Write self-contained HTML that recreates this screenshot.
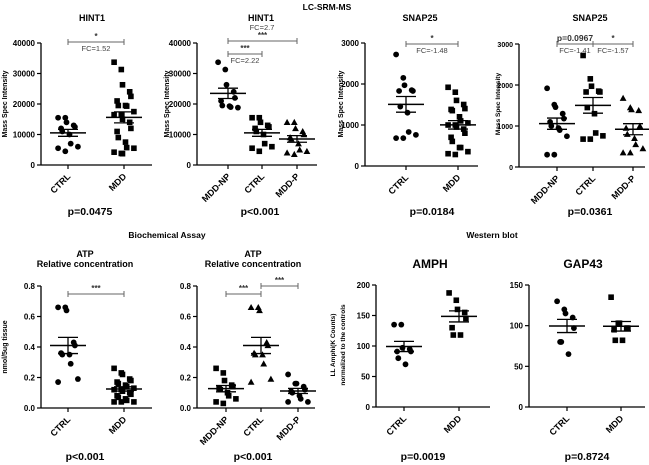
<!DOCTYPE html>
<html><head><meta charset="utf-8"><style>
body{margin:0;background:#fff}
svg{display:block;font-family:"Liberation Sans",Arial,sans-serif}
</style></head><body>
<svg id="fig" width="649" height="465" viewBox="0 0 649 465"></svg>
<script>
// ---- data ----
const hint1Cats=["CTRL","MDD"];
const hint1Ctrl=[15500,15500,14000,13000,12500,12000,11000,10000,7000,6000,5500,4500];
const hint1Mdd=[33700,31300,26300,24000,22500,21000,19500,19500,19300,17500,16500,16500,15000,14000,12000,11000,9000,7500,5700,5500,4200,3800,3700];
const hint1SubCats=["MDD-NP","CTRL","MDD-P"];
const hint1Np=[33700,31300,26300,24000,22000,21000,19500,19300,19000,18800];
const hint1P=[14000,14000,12000,11000,10000,9000,8500,7000,5000,4500,4000,3500];
const snapCtrl=[2720,2150,1970,1850,1830,1830,1450,1300,830,760,680,680];
const snapMdd=[1920,1800,1600,1500,1400,1380,1350,1200,1100,1050,1000,1000,950,900,800,700,600,450,450,350,300,280];
const snapNp=[1920,1520,1460,1300,1180,1100,1000,950,900,750,300,300];
const snapP=[1680,1450,1400,1380,1000,950,800,700,550,450,350,350];
const atpCtrl=[0.66,0.66,0.64,0.43,0.41,0.36,0.35,0.35,0.29,0.19,0.17];
const atpMdd=[0.26,0.23,0.22,0.19,0.18,0.17,0.16,0.15,0.14,0.13,0.12,0.12,0.11,0.10,0.09,0.08,0.07,0.06,0.05,0.04,0.04,0.04];
const atpNp=[0.26,0.23,0.18,0.15,0.14,0.13,0.12,0.10,0.08,0.06,0.04,0.03];
const atpP=[0.22,0.16,0.16,0.14,0.12,0.11,0.10,0.08,0.06,0.04,0.04];
const amphCtrl=[135,135,97,95,91,91,80,70];
const amphMdd=[187,175,160,155,145,130,118,118];
const gapCtrl=[130,120,115,110,97,80,80,65];
const gapMdd=[135,103,103,97,97,95,82,82];
const ticks40k=[0,10000,20000,30000,40000];
const ticks3k=[0,1000,2000,3000];
const ticksAtp=[0,0.2,0.4,0.6,0.8];
const ticksAmph=[0,50,100,150,200];
const ticksGap=[0,50,100,150];

const NS="http://www.w3.org/2000/svg";
const fig=document.getElementById('fig');
function el(tag,attrs,parent,txt){const e=document.createElementNS(NS,tag);for(const k in attrs)e.setAttribute(k,attrs[k]);if(txt!==undefined)e.textContent=txt;(parent||fig).appendChild(e);return e;}
function mean(a){return a.reduce((s,v)=>s+v,0)/a.length;}
function sem(a){const m=mean(a);return Math.sqrt(a.reduce((s,v)=>s+(v-m)*(v-m),0)/(a.length-1))/Math.sqrt(a.length);}
const fmt=v=>v%1?v.toFixed(1):String(v);

function panel(c){
  const g=el('g',{});
  
  
  const yS=v=>c.y0-(v/c.ymax)*(c.y0-c.ytop);
  const ya=el('line',{x1:c.ax,y1:c.ytop,x2:c.ax,y2:c.y0,stroke:'#000','stroke-width':1.3},g);
  
  const xa=el('line',{x1:c.ax,y1:c.y0,x2:c.xend,y2:c.y0,stroke:'#000','stroke-width':1.3},g);
  
  c.ticks.forEach(t=>{
    const y=yS(t);
    el('line',{x1:c.ax-4,y1:y,x2:c.ax,y2:y,stroke:'#000','stroke-width':1.2},g);
    const tl=el('text',{x:c.ax-6,y:y+3,'font-size':c.tkfs||8,'font-weight':'bold','text-anchor':'end'},g,c.tickFmt?c.tickFmt(t):fmt(t));
    
  });
  c.cats.forEach((cat,i)=>{
    const x=c.cx[i];
    el('line',{x1:x,y1:c.y0,x2:x,y2:c.y0+4,stroke:'#000','stroke-width':1.2},g);
    const cl=el('text',{x:x+3,y:c.y0+12,'font-size':9,'font-weight':'bold','text-anchor':'end',transform:`rotate(-45 ${x+3} ${c.y0+12})`},g,cat);
    
    const vals=c.series[i],shape=c.shapes[i];
    vals.forEach((v,j)=>{
      const off=((j%5)-2)*4.2+((j%2)?1:-1)*1.5;
      const px=x+off,py=yS(v);let m;
      if(shape==='c')m=el('circle',{cx:px,cy:py,r:2.9,fill:'#000'},g);
      else if(shape==='s')m=el('rect',{x:px-2.8,y:py-2.8,width:5.6,height:5.6,fill:'#000'},g);
      else m=el('polygon',{points:`${px},${py-3.4} ${px+3.4},${py+2.7} ${px-3.4},${py+2.7}`,fill:'#000'},g);
      
    });
    const mu=mean(vals),se=sem(vals);
    const ml=el('line',{x1:x-18,y1:yS(mu),x2:x+18,y2:yS(mu),stroke:'#000','stroke-width':1.5},g);
    
    el('line',{x1:x,y1:yS(mu+se),x2:x,y2:yS(mu-se),stroke:'#000','stroke-width':1.3},g);
    [mu+se,mu-se].forEach(v=>el('line',{x1:x-10,y1:yS(v),x2:x+10,y2:yS(v),stroke:'#000','stroke-width':1.3},g));
  });
  c.title.forEach((t,k)=>{const tt=el('text',{x:c.tx,y:c.ty+k*10,'font-size':c.tfs||9,'font-weight':'bold','text-anchor':'middle'},g,t);
    });
  c.ytitle.forEach((t,k)=>{const yx=c.ytx+k*10;const yt=el('text',{x:yx,y:c.yty,'font-size':c.ytfs||7,'font-weight':'bold','text-anchor':'middle',transform:`rotate(-90 ${yx} ${c.yty})`},g,t);
    });
  const pv=el('text',{x:c.px,y:c.py,'font-size':10.5,'font-weight':'bold','text-anchor':'middle'},g,c.p);
  
  (c.brackets||[]).forEach(b=>{
    const x1=c.cx[b.a],x2=c.cx[b.b];
    const br=el('line',{x1:x1,y1:b.y,x2:x2,y2:b.y,stroke:'#666','stroke-width':1},g);
    
    [x1,x2].forEach(x=>el('line',{x1:x,y1:b.y-3,x2:x,y2:b.y+3,stroke:'#666','stroke-width':1},g));
    const mx=(x1+x2)/2;
    if(b.up)el('text',{x:mx,y:b.y-3,'font-size':b.upfs||8,'font-weight':'bold','text-anchor':'middle','fill':'#333'},g,b.up);
    if(b.dn)el('text',{x:mx,y:b.y+9,'font-size':7.5,'text-anchor':'middle','fill':'#444'},g,b.dn);
  });
}

function header(t,x,y,n){const h=el('text',{x:x,y:y,'font-size':8.5,'font-weight':'bold','text-anchor':'middle'},fig,t);}
header('LC-SRM-MS',327,10,'lc-srm-ms-header');
header('Biochemical Assay',167,238,'biochemical-assay-header');
header('Western blot',492,238,'western-blot-header');

panel({name:'hint1-panel',ax:41,y0:165,ytop:43,ymax:40000,xend:152,ticks:ticks40k,cats:hint1Cats,cx:[68,124],series:[hint1Ctrl,hint1Mdd],shapes:['c','s'],
 title:['HINT1'],tx:92,ty:21,ytitle:['Mass Spec Intensity'],ytx:7,yty:104,p:'p=0.0475',px:90,py:215,
 brackets:[{a:0,b:1,y:42,up:'*',dn:'FC=1.52'}]});
panel({name:'hint1-subgroup-panel',ax:197,y0:165,ytop:43,ymax:40000,xend:317,ticks:ticks40k,cats:hint1SubCats,cx:[228,262,297],series:[hint1Np,hint1Ctrl,hint1P],shapes:['c','s','t'],
 title:['HINT1'],tx:261,ty:21,ytitle:['Mass Spec Intensity'],ytx:169,yty:104,p:'p<0.001',px:260,py:215,
 brackets:[{a:0,b:2,y:41,up:'***'},{a:0,b:1,y:54,up:'***',dn:'FC=2.22'}]});
el('text',{x:262,y:30,'font-size':7.5,'text-anchor':'middle',fill:'#444'},fig,'FC=2.7');
panel({name:'snap25-panel',ax:365,y0:166,ytop:43,ymax:3000,xend:478,ticks:ticks3k,cats:hint1Cats,cx:[406,458],series:[snapCtrl,snapMdd],shapes:['c','s'],
 title:['SNAP25'],tx:420,ty:21,ytitle:['Mass Spec Intensity'],ytx:343,yty:104,p:'p=0.0184',px:432,py:215,
 brackets:[{a:0,b:1,y:44,up:'*',dn:'FC=-1.48'}]});
panel({name:'snap25-subgroup-panel',ax:519,y0:167,ytop:44,ymax:3000,xend:645,ticks:ticks3k,tkfs:7,cats:hint1SubCats,cx:[557,593,633],series:[snapNp,snapCtrl,snapP],shapes:['c','s','t'],
 title:['SNAP25'],tx:590,ty:21,ytitle:['Mass Spec Intensity'],ytfs:6.5,ytx:500,yty:104,p:'p=0.0361',px:590,py:215,
 brackets:[{a:0,b:1,y:44,up:'p=0.0967',upfs:8.5,dn:'FC=-1.41'},{a:1,b:2,y:44,up:'*',dn:'FC=-1.57'}]});
panel({name:'atp-panel',ax:41,y0:408,ytop:286,ymax:0.8,xend:152,ticks:ticksAtp,tickFmt:v=>v.toFixed(1),cats:hint1Cats,cx:[68,124],series:[atpCtrl,atpMdd],shapes:['c','s'],
 title:['ATP','Relative concentration'],tx:85,ty:257,ytitle:['nmol/5ug tissue'],ytx:7,yty:347,p:'p<0.001',px:85,py:460,
 brackets:[{a:0,b:1,y:294,up:'***'}]});
panel({name:'atp-subgroup-panel',ax:197,y0:408,ytop:286,ymax:0.8,xend:315,ticks:ticksAtp,tickFmt:v=>v.toFixed(1),cats:hint1SubCats,cx:[226,261,298],series:[atpNp,atpCtrl,atpP],shapes:['s','t','c'],
 title:['ATP','Relative concentration'],tx:253,ty:257,ytitle:[],ytx:0,yty:0,p:'p<0.001',px:253,py:460,
 brackets:[{a:0,b:1,y:294,up:'***'},{a:1,b:2,y:286,up:'***'}]});
panel({name:'amph-panel',ax:376,y0:407,ytop:285,ymax:200,xend:490,ticks:ticksAmph,cats:hint1Cats,cx:[404,459],series:[amphCtrl,amphMdd],shapes:['c','s'],
 title:['AMPH'],tfs:12,tx:430,ty:268,ytitle:['LL Amphi(K Counts)','normalized to the controls'],ytfs:6.5,ytx:335,yty:345,p:'p=0.0019',px:423,py:460});
panel({name:'gap43-panel',ax:529,y0:407,ytop:285,ymax:150,xend:645,ticks:ticksGap,cats:hint1Cats,cx:[567,621],series:[gapCtrl,gapMdd],shapes:['c','s'],
 title:['GAP43'],tfs:12,tx:583,ty:268,ytitle:[],ytx:0,yty:0,p:'p=0.8724',px:587,py:460});
</script>
</body></html>
